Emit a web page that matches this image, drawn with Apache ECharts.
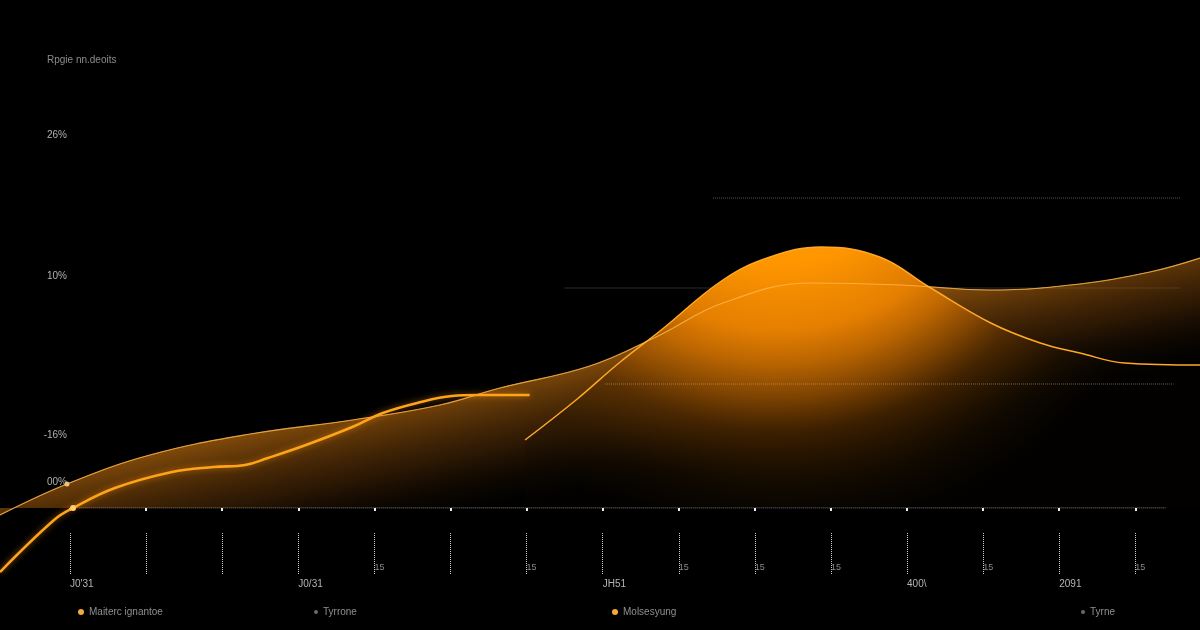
<!DOCTYPE html>
<html>
<head>
<meta charset="utf-8">
<script src="https://cdn.jsdelivr.net/npm/echarts@6/dist/echarts.min.js"></script>
<style>
html,body{margin:0;padding:0;background:#000;}
#c{width:1200px;height:630px;}
</style>
</head>
<body>
<div id="c"></div>
<script>
// ---- data ----
const xTickValues = [0,1,2,3,4,5,6,7,8,9,10,11,12,13,14];
const xLabelValues = [0,3,7,11,13];
const xLabelTexts = ["J0'31","J0/31","JH51","400\\","2091"];
const xMinorLabelValues = [4,6,8,9,10,12,14];
const xMinorLabelText = '15';
const yLabelValues = [2.6, 7.3, 23.2, 37.3];
const yLabelTexts = ['00%','-16%','10%','26%'];

// broad band (upper edge)
const bandSeries = [[-0.92,-0.7],[-0.04,2.4],[1.05,5.3],[2.37,7.4],[3.71,8.8],[4.86,10.3],[5.65,12.0],[6.83,14.2],[7.70,17.1],[8.58,20.5],[9.75,22.5],[10.93,22.3],[12.10,21.8],[13.27,22.4],[14.19,23.6],[14.85,25.0]];
// peak series
const peakSeries = [[5.98,6.8],[6.65,10.8],[7.23,14.6],[7.77,17.8],[8.58,22.8],[9.20,25.1],[9.87,26.1],[10.64,25.1],[11.29,22.1],[12.10,18.5],[12.75,16.5],[13.27,15.5],[13.86,14.5],[14.85,14.3]];
// bold left line
const boldSeries = [[-0.92,-6.4],[-0.21,-1.2],[0.04,0],[0.59,2.0],[1.34,3.6],[1.89,4.1],[2.30,4.3],[2.60,5.0],[3.10,6.3],[3.71,8.1],[4.11,9.5],[4.61,10.6],[5.02,11.2],[5.36,11.3],[6.04,11.3]];
// reference lines
const refLineY = [31, 22, 12.4];
const refLineFrom = [8.45, 6.5, 7.03];
const refLineTo = [14.59, 14.59, 14.5];
// baseline
const baselineY = 0;
const baselineFrom = 0.07;
const baselineTo = 14.4;

const X_MIN = -0.92, X_MAX = 14.85;

function nearestLabel(vals, texts, v){
  let best = 0, bd = Infinity;
  vals.forEach((x,i)=>{ const d = Math.abs(x-v); if(d<bd){bd=d;best=i;} });
  return texts[best];
}

const chart = echarts.init(document.getElementById('c'), null, {renderer:'canvas'});

const baseX = {type:'value', gridIndex:0, min:X_MIN, max:X_MAX, position:'bottom',
  splitLine:{show:false}, axisLine:{show:false}, axisTick:{show:false}, axisLabel:{show:false}};

const markedBand = bandSeries.map((p,i)=> i===1 ? {value:p, symbol:'circle', symbolSize:5, itemStyle:{color:'#e8c58a'}} : {value:p});
const markedBold = boldSeries.map((p,i)=> i===2 ? {value:p, symbol:'circle', symbolSize:6, itemStyle:{color:'#ffcf70'}} : {value:p});

const series = [];
refLineY.forEach((y,i)=>{
  series.push({
    name: i===0 ? 'Tyrrone' : undefined,
    type:'line', data:[[refLineFrom[i],y],[refLineTo[i],y]],
    symbol:'none', silent:true,
    z: i===2 ? 6 : 1,
    lineStyle:{color: i===2 ? 'rgba(200,180,140,0.55)' : 'rgba(150,150,150,0.55)', width:1, type:'dotted'},
    itemStyle:{color:'#666'}
  });
});
series.push({
  name:'Tyrne', type:'line', data:[[baselineFrom,baselineY],[baselineTo,baselineY]],
  symbol:'none', z:2, silent:true,
  lineStyle:{color:'rgba(225,225,225,0.85)', width:1, type:'dotted'},
  itemStyle:{color:'#666'}
});
series.push({
  name:'Band', type:'line', data:markedBand, smooth:0.4, symbol:'none', showSymbol:true, z:3, clip:false,
  lineStyle:{color:'rgba(215,140,45,0.55)', width:1},
  itemStyle:{color:'#c98a2c'},
  areaStyle:{origin:'start', opacity:1, color: new echarts.graphic.LinearGradient(0.5,0.405,0.5225,0.911,[
    {offset:0, color:'rgba(195,112,15,0.64)'},
    {offset:0.5, color:'rgba(120,65,10,0.34)'},
    {offset:1, color:'rgba(0,0,0,0)'}
  ])}
});
series.push({
  name:'Molsesyung', type:'line', data:peakSeries, smooth:0.4, symbol:'none', z:4, clip:false,
  lineStyle:{color:'#ffa826', width:1.5},
  itemStyle:{color:'#f5a83a'},
  areaStyle:{origin:'start', opacity:1, color: new echarts.graphic.RadialGradient(0.378,-0.481,1.603,[
    {offset:0, color:'rgba(255,160,0,1)'},
    {offset:0.34, color:'rgba(255,150,0,1)'},
    {offset:0.5, color:'rgba(235,130,0,0.95)'},
    {offset:0.58, color:'rgba(200,108,0,0.88)'},
    {offset:0.66, color:'rgba(150,80,0,0.78)'},
    {offset:0.74, color:'rgba(95,50,0,0.62)'},
    {offset:0.88, color:'rgba(40,22,0,0.4)'},
    {offset:1, color:'rgba(15,8,0,0.15)'}
  ])}
});
series.push({
  name:'BandEdge', type:'line', data:bandSeries, smooth:0.4, symbol:'none', z:5, clip:false, silent:true,
  lineStyle:{color:'rgba(255,185,80,0.75)', width:1.2}
});
series.push({
  name:'Maiterc ignantoe', type:'line', data:markedBold, smooth:0.4, symbol:'none', z:7, clip:false,
  lineStyle:{color:'#ffa31a', width:2.6, shadowBlur:6, shadowColor:'rgba(255,150,0,0.6)'},
  itemStyle:{color:'#f0aa40'}
});

function legendAt(left, name, color, size){
  return {left:left, top:602, orient:'horizontal', selectedMode:false, icon:'circle',
    itemWidth:size, itemHeight:size, itemGap:5,
    textStyle:{color:'#8f8f8f', fontSize:10, fontFamily:'Liberation Sans, Arial, sans-serif'},
    data:[{name:name, itemStyle:{color:color}}]};
}

chart.setOption({
  backgroundColor:'#000',
  animation:false,
  textStyle:{fontFamily:'Liberation Sans, Arial, sans-serif'},
  title:{text:'Rpgie nn.deoits', left:47, top:55, padding:0, textStyle:{color:'#8c8c8c', fontSize:10, fontWeight:'normal'}},
  grid:{left:0, right:0, top:98, bottom:122, containLabel:false},
  legend:[
    legendAt(73, 'Maiterc ignantoe', '#f0aa40', 6),
    legendAt(309, 'Tyrrone', '#6a6a6a', 4),
    legendAt(607, 'Molsesyung', '#f5a83a', 6),
    legendAt(1076, 'Tyrne', '#6a6a6a', 4)
  ],
  xAxis:[
    Object.assign({}, baseX, {axisTick:{show:true, customValues:xTickValues, length:3, lineStyle:{color:'#eeeeee', width:2}}}),
    Object.assign({}, baseX, {offset:25,
      axisTick:{show:true, customValues:xTickValues, length:42, lineStyle:{color:'#d0d0d0', width:1, type:'dotted'}},
      axisLabel:{show:true, customValues:xLabelValues, formatter:v=>nearestLabel(xLabelValues,xLabelTexts,v), margin:46, align:'left', color:'#b5b5b5', fontSize:10}}),
    Object.assign({}, baseX, {offset:25,
      axisLabel:{show:true, customValues:xMinorLabelValues, formatter:()=>xMinorLabelText, margin:30, align:'left', color:'#8a8a8a', fontSize:9}})
  ],
  yAxis:{type:'value', min:0, max:41, offset:-70,
    splitLine:{show:false}, axisLine:{show:false}, axisTick:{show:false},
    axisLabel:{customValues:yLabelValues, formatter:v=>nearestLabel(yLabelValues,yLabelTexts,v), margin:3, color:'#b0b0b0', fontSize:10}},
  series:series
});
</script>
</body>
</html>
